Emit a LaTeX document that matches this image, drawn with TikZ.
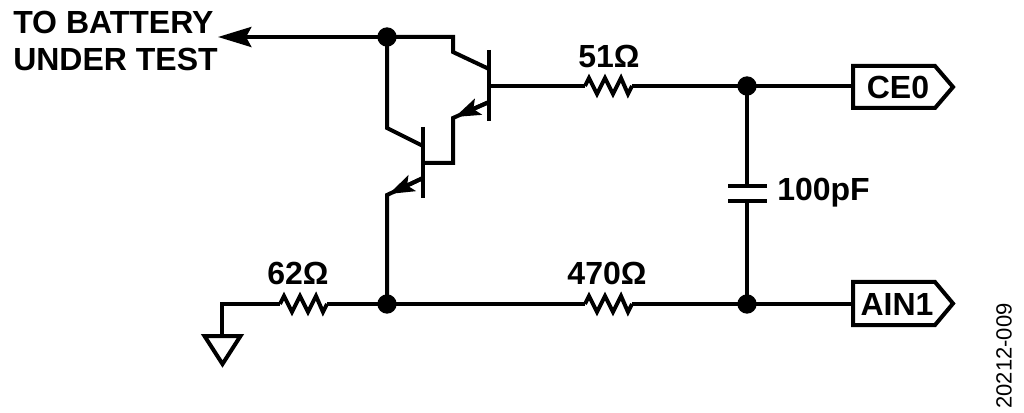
\documentclass[tikz,border=0pt]{standalone}
\usepackage{fontspec}
\setmainfont{Liberation Sans}
\usetikzlibrary{arrows.meta}
\tikzset{
	wire/.style={line width=3pt,line join=miter},
	dot/.style={circle,fill=black,inner sep=0pt,minimum size=14.5pt},
	lbl/.style={font=\bfseries\fontsize{24}{28}\selectfont,inner sep=0pt},
	resistor/.pic={\draw[wire] (0,0) -- (4,-8) -- (12,8) -- (20,-8) -- (28,8) -- (36,-8) -- (43,8) -- (47,0);}
}
\begin{document}
\begin{tikzpicture}[x=0.75pt,y=-0.75pt]
	\useasboundingbox (0,0) rectangle (1024,413);
	\coordinate (batt) at (218,37);
	\coordinate (top) at (387,37);
	\coordinate (gndtop) at (222,334);
	\coordinate (gndcorner) at (222,304);
	\coordinate (r62a) at (280,304);
	\coordinate (r62b) at (327,304);
	\coordinate (low) at (387,304);
	\coordinate (r470a) at (585,304);
	\coordinate (r470b) at (632,304);
	\coordinate (r51a) at (585,86);
	\coordinate (r51b) at (632,86);
	\coordinate (ce) at (747,86);
	\coordinate (ain) at (747,304);
	\coordinate (capa) at (747,186);
	\coordinate (capb) at (747,201);
	\coordinate (qa) at (489,86);
	\coordinate (qb) at (423,163);
	\draw[wire,-{Stealth[length=25pt,width=15pt,inset=4pt]}] (top) -- (batt);
	\draw[wire] (top) -- (453,37) -- (453,52) -- (489,69);
	\draw[wire] (489,50) -- (489,121);
	\draw[wire] (qa) -- (r51a);
	\pic at (r51a) {resistor};
	\draw[wire] (r51b) -- (ce);
	\draw[wire] (ce) -- (853,86);
	\draw[wire] (489,102) -- (453,118) -- (453,163) -- (qb);
	\draw[wire,-{Stealth[length=19pt,width=13pt,inset=4pt]}] (489,102) -- (455,117);
	\draw[wire] (top) -- (387,128) -- (423,146);
	\draw[wire] (423,127) -- (423,198);
	\draw[wire] (423,178) -- (387,195) -- (low);
	\draw[wire,-{Stealth[length=19pt,width=13pt,inset=4pt]}] (423,178) -- (389,194);
	\draw[wire] (gndtop) -- (gndcorner) -- (r62a);
	\pic at (r62a) {resistor};
	\draw[wire] (r62b) -- (low);
	\draw[wire] (low) -- (r470a);
	\pic at (r470a) {resistor};
	\draw[wire] (r470b) -- (ain);
	\draw[wire] (ain) -- (853,304);
	\draw[wire] (204.5,336) -- (240.5,336) -- (222.5,364) -- cycle;
	\draw[wire] (ce) -- (capa);
	\draw[wire] (728,186) -- (767,186);
	\draw[wire] (728,201) -- (767,201);
	\draw[wire] (capb) -- (ain);
	\draw[wire] (853,66) -- (935,66) -- (953,87) -- (935,108) -- (853,108) -- cycle;
	\draw[wire] (853,282) -- (935,282) -- (953,303.5) -- (935,325) -- (853,325) -- cycle;
	\node[dot] (ntop) at (top) {};
	\node[dot] (nlow) at (low) {};
	\node[dot] (nce) at (ce) {};
	\node[dot] (nain) at (ain) {};
	\node[lbl,anchor=west] (ltobatt) at (13,22) {TO BATTERY};
	\node[lbl,anchor=west] (lunder) at (13,59) {UNDER TEST};
	\node[lbl] (l51) at (609,56) {51Ω};
	\node[lbl] (l62) at (298,273) {62Ω};
	\node[lbl] (l470) at (607,273) {470Ω};
	\node[lbl,anchor=west] (l100) at (777,193) {100pF};
	\node[lbl] (lce) at (898,87) {CE0};
	\node[lbl] (lain) at (897,304) {AIN1};
	\node[rotate=90,font=\fontsize{16.5}{18}\selectfont,inner sep=0pt] (lnum) at (1004,356) {20212-009};
\end{tikzpicture}
\end{document}
